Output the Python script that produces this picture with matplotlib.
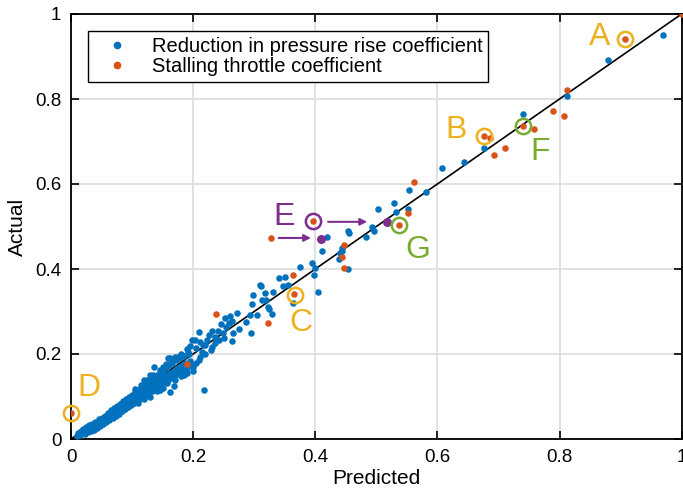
import numpy as np
import matplotlib
matplotlib.use("Agg")
import matplotlib.pyplot as plt
from matplotlib.lines import Line2D

plt.rcParams['font.family'] = ['Liberation Sans', 'DejaVu Sans']

# colours (MATLAB default order)
c_blue = '#0072BD'
c_orange = '#D95319'
c_yellow = '#EDB120'
c_purple = '#7E2F8E'
c_green = '#77AC30'

# Reduction in pressure rise coefficient (predicted, actual)
blue_x = [
    0.010, 0.012, 0.015, 0.016, 0.018, 0.020, 0.021, 0.023, 0.025, 0.026, 0.028, 0.030,
    0.031, 0.033, 0.035, 0.036, 0.038, 0.040, 0.041, 0.043, 0.045, 0.046, 0.048, 0.050,
    0.051, 0.053, 0.055, 0.056, 0.058, 0.060, 0.061, 0.063, 0.065, 0.066, 0.068, 0.070,
    0.071, 0.073, 0.075, 0.076, 0.078, 0.080, 0.081, 0.083, 0.085, 0.086, 0.088, 0.090,
    0.091, 0.093, 0.095, 0.096, 0.098, 0.100, 0.101, 0.103, 0.105, 0.106, 0.108, 0.110,
    0.111, 0.113, 0.115, 0.116, 0.118, 0.120, 0.121, 0.123, 0.125, 0.126, 0.128, 0.130,
    0.131, 0.133, 0.135, 0.136, 0.138, 0.140, 0.141, 0.143, 0.145, 0.146, 0.148, 0.150,
    0.151, 0.153, 0.155, 0.156, 0.158, 0.160, 0.162, 0.164, 0.166, 0.168, 0.170, 0.172,
    0.174, 0.176, 0.178, 0.180, 0.182, 0.185, 0.187, 0.190, 0.193, 0.195, 0.198,
    0.105, 0.115, 0.125, 0.135, 0.145, 0.150, 0.155, 0.165, 0.170, 0.180, 0.190, 0.195,
    0.110, 0.120, 0.130, 0.140, 0.150, 0.170, 0.180, 0.190, 0.200, 0.210, 0.220, 0.230,
    0.205, 0.212, 0.226, 0.240, 0.245, 0.258, 0.235, 0.215,
    0.162, 0.136, 0.159, 0.175, 0.191, 0.211, 0.216, 0.198, 0.203, 0.209, 0.162, 0.157,
    0.168, 0.145, 0.130, 0.120, 0.185, 0.200, 0.205, 0.218,
    0.340, 0.311, 0.347, 0.298, 0.318, 0.331, 0.313, 0.296, 0.322, 0.324, 0.329, 0.272,
    0.260, 0.252, 0.264, 0.293, 0.304, 0.286, 0.254, 0.275, 0.265, 0.249, 0.295, 0.231,
    0.236, 0.223, 0.242, 0.264, 0.250, 0.219, 0.231,
    0.375, 0.394, 0.399, 0.398, 0.355, 0.404, 0.309, 0.319, 0.363, 0.350, 0.411,
    0.444, 0.440, 0.444, 0.439, 0.453, 0.419, 0.453, 0.455, 0.483, 0.493, 0.496, 0.502,
    0.529, 0.532, 0.552, 0.553, 0.581,
    0.607, 0.643, 0.676, 0.741, 0.812, 0.880, 0.969,
]
blue_y = [
    0.008, 0.015, 0.010, 0.020, 0.014, 0.024, 0.017, 0.012, 0.028, 0.020, 0.016, 0.032,
    0.025, 0.019, 0.036, 0.029, 0.022, 0.041, 0.033, 0.027, 0.046, 0.038, 0.031, 0.050,
    0.043, 0.036, 0.055, 0.047, 0.040, 0.061, 0.053, 0.045, 0.068, 0.058, 0.050, 0.072,
    0.063, 0.055, 0.078, 0.069, 0.060, 0.083, 0.073, 0.065, 0.089, 0.078, 0.070, 0.093,
    0.083, 0.075, 0.099, 0.088, 0.079, 0.104, 0.093, 0.085, 0.110, 0.098, 0.089, 0.116,
    0.103, 0.094, 0.121, 0.108, 0.098, 0.127, 0.113, 0.104, 0.133, 0.118, 0.108, 0.138,
    0.124, 0.113, 0.144, 0.129, 0.118, 0.151, 0.134, 0.123, 0.156, 0.140, 0.128, 0.162,
    0.146, 0.133, 0.168, 0.150, 0.138, 0.173, 0.156, 0.143, 0.180, 0.161, 0.150, 0.186,
    0.167, 0.156, 0.190, 0.172, 0.162, 0.195, 0.178, 0.168, 0.200, 0.183, 0.175,
    0.118, 0.128, 0.140, 0.150, 0.163, 0.170, 0.176, 0.185, 0.193, 0.200, 0.212, 0.220,
    0.085, 0.095, 0.100, 0.112, 0.120, 0.140, 0.148, 0.155, 0.170, 0.185, 0.200, 0.210,
    0.215, 0.228, 0.245, 0.255, 0.270, 0.272, 0.225, 0.205,
    0.191, 0.169, 0.191, 0.193, 0.205, 0.193, 0.221, 0.233, 0.233, 0.252, 0.111, 0.132,
    0.125, 0.115, 0.150, 0.140, 0.150, 0.160, 0.180, 0.115,
    0.379, 0.360, 0.360, 0.339, 0.344, 0.346, 0.327, 0.318, 0.311, 0.306, 0.294, 0.296,
    0.289, 0.285, 0.278, 0.292, 0.292, 0.275, 0.264, 0.259, 0.249, 0.249, 0.249, 0.254,
    0.240, 0.233, 0.233, 0.231, 0.238, 0.221, 0.216,
    0.405, 0.414, 0.402, 0.386, 0.362, 0.346, 0.362, 0.327, 0.320, 0.381, 0.442,
    0.449, 0.438, 0.442, 0.424, 0.400, 0.475, 0.489, 0.484, 0.475, 0.499, 0.489, 0.541,
    0.555, 0.534, 0.541, 0.586, 0.581,
    0.638, 0.652, 0.685, 0.765, 0.807, 0.892, 0.951,
]

# Stalling throttle coefficient (predicted, actual)
orange_x = [1.000, 0.908, 0.812, 0.789, 0.808, 0.741, 0.759, 0.676, 0.686, 0.692, 0.710,
            0.561, 0.552, 0.537, 0.396, 0.327, 0.447, 0.444, 0.447, 0.363, 0.365, 0.237,
            0.322, 0.190, 0.000]
orange_y = [1.000, 0.941, 0.821, 0.772, 0.760, 0.737, 0.730, 0.713, 0.708, 0.668, 0.685,
            0.605, 0.532, 0.504, 0.513, 0.473, 0.456, 0.428, 0.402, 0.386, 0.341, 0.294,
            0.273, 0.176, 0.061]

# highlighted cases: label, circled point, label position, colour
case_labels = ['A', 'B', 'C', 'D', 'E', 'F', 'G']
case_x = [0.908, 0.676, 0.367, 0.000, 0.396, 0.741, 0.537]
case_y = [0.941, 0.713, 0.339, 0.061, 0.513, 0.737, 0.504]
label_x = [0.866, 0.630, 0.376, 0.029, 0.349, 0.768, 0.568]
label_y = [0.946, 0.727, 0.273, 0.120, 0.522, 0.675, 0.445]
case_colors = [c_yellow, c_yellow, c_yellow, c_yellow, c_purple, c_green, c_green]

# moved points for case E (purple) with arrows from old to new
moved_x = [0.409, 0.517]
moved_y = [0.471, 0.511]
arrow_from = [(0.340, 0.473), (0.421, 0.511)]
arrow_to = [(0.393, 0.473), (0.485, 0.511)]

fig = plt.figure(figsize=(6.83, 5.0), dpi=100)
ax = fig.add_axes([0.104, 0.122, 0.894, 0.850])

ax.plot([0, 1], [0, 1], color='black', lw=1.2, zorder=2)
ax.scatter(blue_x, blue_y, s=22, color=c_blue, linewidths=0, zorder=3)
ax.scatter(orange_x, orange_y, s=22, color=c_orange, linewidths=0, zorder=4)
ax.scatter(moved_x, moved_y, s=42, color=c_purple, linewidths=0, zorder=5)

for (x0, y0), (x1, y1) in zip(arrow_from, arrow_to):
    ax.annotate('', xy=(x1, y1), xytext=(x0, y0),
                arrowprops=dict(arrowstyle='-|>', color=c_purple, lw=1.5,
                                mutation_scale=10, shrinkA=0, shrinkB=0), zorder=5)

for lab, cx, cy, lx, ly, col in zip(case_labels, case_x, case_y, label_x, label_y, case_colors):
    ax.plot(cx, cy, 'o', ms=11, mfc='none', mec=col, mew=1.8, zorder=6, clip_on=False)
    ax.text(lx, ly, lab, color=col, fontsize=23, ha='center', va='center', zorder=6)

ax.set_xlim(0, 1)
ax.set_ylim(0, 1)
ticks = [0, 0.2, 0.4, 0.6, 0.8, 1]
tick_labels = ['0', '0.2', '0.4', '0.6', '0.8', '1']
ax.set_xticks(ticks)
ax.set_xticklabels(tick_labels)
ax.set_yticks(ticks)
ax.set_yticklabels(tick_labels)
ax.tick_params(direction='in', top=True, right=True, length=6, width=1.2,
               labelsize=13.5, pad=7)
ax.grid(True, color='#dcdcdc', lw=1.2)
ax.set_axisbelow(True)
for sp in ax.spines.values():
    sp.set_linewidth(1.3)

ax.set_xlabel('Predicted', fontsize=15, labelpad=2)
ax.set_ylabel('Actual', fontsize=15, labelpad=6)

handles = [
    Line2D([], [], ls='none', marker='.', ms=9, color=c_blue),
    Line2D([], [], ls='none', marker='.', ms=9, color=c_orange),
]
leg = ax.legend(handles, ['Reduction in pressure rise coefficient', 'Stalling throttle coefficient'],
                loc='upper left', bbox_to_anchor=(0.028, 0.96), fontsize=14.5,
                fancybox=False, framealpha=1, edgecolor='black', borderpad=0.3,
                labelspacing=0.05, handletextpad=0.55, handlelength=2.3, borderaxespad=0)
leg.get_frame().set_linewidth(1.0)

fig.savefig('out.png', dpi=100)
